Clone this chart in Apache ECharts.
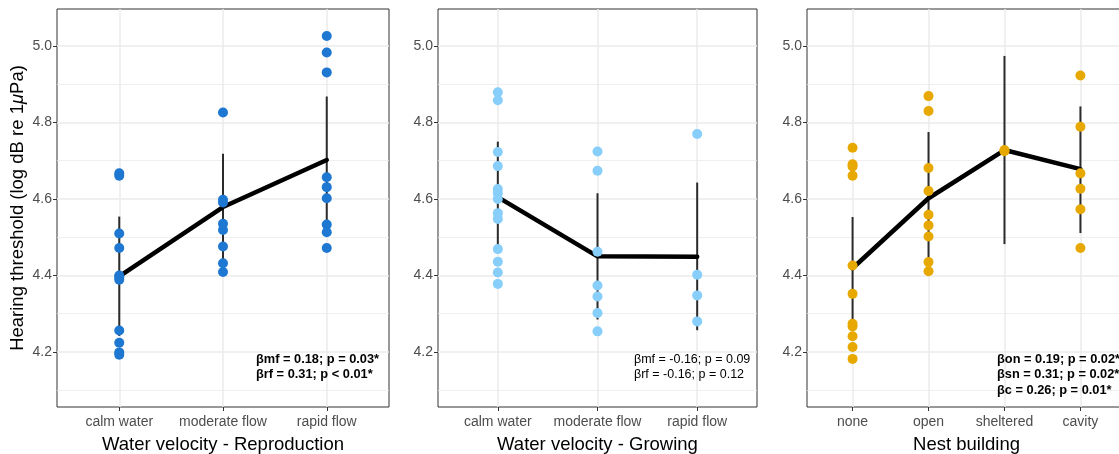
<!DOCTYPE html>
<html>
<head>
<meta charset="utf-8">
<script src="https://cdn.jsdelivr.net/npm/echarts@6/dist/echarts.min.js"></script>
<style>
  html, body { margin: 0; padding: 0; background: #fff; }
  #main { width: 1119px; height: 454px; }
</style>
</head>
<body>
<div id="main"></div>
<script>
// categories
var velCats = ['calm water', 'moderate flow', 'rapid flow'];
var nestCats = ['none', 'open', 'sheltered', 'cavity'];

// panel 1 - water velocity, reproduction (raw points per group)
var reproCalm = [4.667, 4.661, 4.510, 4.472, 4.400, 4.395, 4.389, 4.256, 4.224, 4.199, 4.193];
var reproModerate = [4.826, 4.598, 4.591, 4.535, 4.519, 4.476, 4.432, 4.409];
var reproRapid = [5.026, 4.983, 4.931, 4.657, 4.631, 4.602, 4.533, 4.513, 4.472];
var reproMean = [4.398, 4.579, 4.702];
var reproLow = [4.242, 4.440, 4.536];
var reproHigh = [4.554, 4.718, 4.868];

// panel 2 - water velocity, growing
var growCalm = [4.879, 4.858, 4.723, 4.686, 4.626, 4.615, 4.600, 4.563, 4.548, 4.469, 4.436, 4.408, 4.378];
var growModerate = [4.724, 4.674, 4.462, 4.374, 4.345, 4.302, 4.254];
var growRapid = [4.770, 4.402, 4.348, 4.280];
var growMean = [4.605, 4.450, 4.449];
var growLow = [4.460, 4.285, 4.257];
var growHigh = [4.750, 4.615, 4.643];

// panel 3 - nest building
var nestNone = [4.734, 4.691, 4.685, 4.661, 4.426, 4.352, 4.274, 4.267, 4.241, 4.213, 4.182];
var nestOpen = [4.869, 4.830, 4.681, 4.621, 4.559, 4.531, 4.502, 4.435, 4.411];
var nestSheltered = [4.728, 4.725];
var nestCavity = [4.923, 4.789, 4.667, 4.627, 4.573, 4.472];
var nestMean = [4.419, 4.602, 4.728, 4.678];
var nestLow = [4.285, 4.429, 4.482, 4.511];
var nestHigh = [4.553, 4.775, 4.974, 4.842];

var yMajor = [4.2, 4.4, 4.6, 4.8, 5.0];
var yMinor = [4.1, 4.3, 4.5, 4.7, 4.9];

var FONT = 'Liberation Sans, Arial, Helvetica, sans-serif';

function toPoints(groups) {
  var out = [];
  groups.forEach(function (g, i) {
    g.forEach(function (v) { out.push([i + 1, v]); });
  });
  return out;
}
function toMeans(m) {
  return m.map(function (v, i) { return [i + 1, v]; });
}
function toBars(lo, hi) {
  return lo.map(function (v, i) { return [i + 1, v, hi[i]]; });
}

var grids = [
  { left: 57, top: 9, width: 332, height: 398 },
  { left: 438, top: 9, width: 319, height: 398 },
  { left: 807, top: 9, width: 319, height: 398 }
];
grids.forEach(function (g) {
  g.show = true;
  g.borderColor = '#333333';
  g.borderWidth = 1;
  g.backgroundColor = '#ffffff';
  g.containLabel = false;
  g.outerBoundsMode = 'none';
});

function xAxisFor(gi, cats, title) {
  var vals = cats.map(function (c, i) { return i + 1; });
  return {
    type: 'value', gridIndex: gi,
    min: 0.4, max: cats.length + 0.6,
    name: title, nameLocation: 'middle', nameGap: 28,
    nameTextStyle: { fontFamily: FONT, fontSize: 18.5, color: '#000' },
    axisLine: { show: false },
    axisTick: { show: true, length: 4, customValues: vals, lineStyle: { color: '#333333' } },
    axisLabel: {
      customValues: vals, margin: 8, fontFamily: FONT, fontSize: 14, color: '#4d4d4d',
      formatter: function (v) { return cats[Math.round(v) - 1]; }
    },
    splitLine: { show: true, lineStyle: { color: '#ebebeb', width: 1.5 } }
  };
}

function yAxesFor(gi, withName) {
  var main = {
    type: 'value', gridIndex: gi, position: 'left',
    min: 4.0562, max: 5.0967,
    axisLine: { show: false },
    axisTick: { show: true, length: 4, customValues: yMajor, lineStyle: { color: '#333333' } },
    axisLabel: {
      customValues: yMajor, margin: 5, fontFamily: FONT, fontSize: 14, color: '#4d4d4d',
      formatter: function (v) { return v.toFixed(1); }
    },
    splitLine: { show: true, lineStyle: { color: '#ebebeb', width: 1.5 } }
  };
  if (withName) {
    main.name = 'Hearing threshold (log dB re 1{i|μ}Pa)';
    main.nameLocation = 'middle';
    main.nameGap = 30;
    main.nameRotate = 90;
    main.nameTextStyle = {
      fontFamily: FONT, fontSize: 18.5, color: '#000',
      rich: { i: { fontFamily: FONT, fontSize: 18.5, fontStyle: 'italic', color: '#000' } }
    };
  }
  var minor = {
    type: 'value', gridIndex: gi, position: 'left',
    min: 4.0562, max: 5.0967,
    axisLine: { show: false },
    axisTick: { show: false, customValues: yMinor },
    axisLabel: { show: false, customValues: yMinor },
    splitLine: { show: true, lineStyle: { color: '#ebebeb', width: 0.8 } }
  };
  return [main, minor];
}

function errorBars(xi, yi, lo, hi) {
  return {
    type: 'custom', xAxisIndex: xi, yAxisIndex: yi, z: 3,
    data: toBars(lo, hi),
    renderItem: function (params, api) {
      var a = api.coord([api.value(0), api.value(1)]);
      var b = api.coord([api.value(0), api.value(2)]);
      return {
        type: 'line',
        shape: { x1: a[0], y1: a[1], x2: b[0], y2: b[1] },
        style: { stroke: '#2b2b2b', lineWidth: 2 }
      };
    }
  };
}
function meanLine(xi, yi, m) {
  return {
    type: 'line', xAxisIndex: xi, yAxisIndex: yi, z: 4,
    data: toMeans(m), showSymbol: false, symbol: 'none',
    lineStyle: { color: '#000', width: 4.5, cap: 'round', join: 'round' },
    animation: false
  };
}
function points(xi, yi, groups, color) {
  return {
    type: 'scatter', xAxisIndex: xi, yAxisIndex: yi, z: 5,
    data: toPoints(groups), symbolSize: 10,
    itemStyle: { color: color, opacity: 1 }
  };
}

var y1 = yAxesFor(0, true), y2 = yAxesFor(1, false), y3 = yAxesFor(2, false);

var option = {
  animation: false,
  backgroundColor: '#ffffff',
  grid: grids,
  xAxis: [
    xAxisFor(0, velCats, 'Water velocity - Reproduction'),
    xAxisFor(1, velCats, 'Water velocity - Growing'),
    xAxisFor(2, nestCats, 'Nest building')
  ],
  yAxis: [y1[0], y1[1], y2[0], y2[1], y3[0], y3[1]],
  series: [
    errorBars(0, 0, reproLow, reproHigh),
    meanLine(0, 0, reproMean),
    points(0, 0, [reproCalm, reproModerate, reproRapid], '#1e78d2'),
    errorBars(1, 2, growLow, growHigh),
    meanLine(1, 2, growMean),
    points(1, 2, [growCalm, growModerate, growRapid], '#87cefa'),
    errorBars(2, 4, nestLow, nestHigh),
    meanLine(2, 4, nestMean),
    points(2, 4, [nestNone, nestOpen, nestSheltered, nestCavity], '#e7a900')
  ],
  graphic: [
    {
      type: 'text', left: 256, top: 352, z: 10,
      style: { text: 'βmf = 0.18; p = 0.03*\nβrf = 0.31; p < 0.01*', font: 'bold 12.8px ' + FONT, fill: '#000', lineHeight: 15.3 }
    },
    {
      type: 'text', left: 634, top: 352, z: 10,
      style: { text: 'βmf = -0.16; p = 0.09\nβrf = -0.16; p = 0.12', font: '12.5px ' + FONT, fill: '#000', lineHeight: 15.3 }
    },
    {
      type: 'text', left: 997, top: 352, z: 10,
      style: { text: 'βon = 0.19; p = 0.02*\nβsn = 0.31; p = 0.02*\nβc = 0.26; p = 0.01*', font: 'bold 12.8px ' + FONT, fill: '#000', lineHeight: 15.3 }
    }
  ]
};

var chart = echarts.init(document.getElementById('main'), null, { renderer: 'canvas' });
chart.setOption(option);
</script>
</body>
</html>
